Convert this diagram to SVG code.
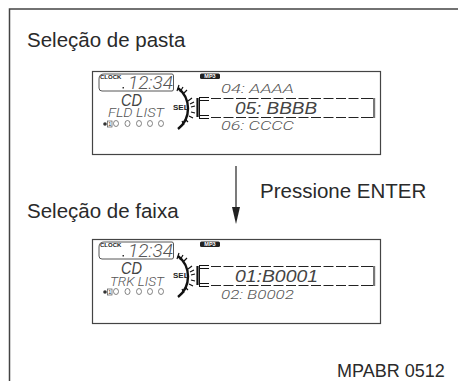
<svg xmlns="http://www.w3.org/2000/svg" width="458" height="381" viewBox="0 0 458 381">
<style>
.lbl{font-family:"Liberation Sans",Arial,sans-serif;font-size:20.500px;fill:#2a2a2a}
.box{fill:#fff;stroke:#444;stroke-width:1.200}
.lcd{font-family:Roboto,"Liberation Sans",sans-serif;font-weight:300;font-style:italic;fill:#555}
.big{font-family:"Liberation Sans",sans-serif;font-style:italic;fill:#444}
.tiny{font-family:"Liberation Sans",Arial,sans-serif;font-weight:700;fill:#222}
.clk{fill:none;stroke:#444;stroke-width:.9}
.dash{fill:none;stroke:#222;stroke-width:1;stroke-dasharray:10 2.500}
.arc{fill:none;stroke:#111;stroke-width:2.400}
.tick{fill:none;stroke:#111;stroke-width:1.200}
.br{fill:none;stroke:#111;stroke-width:1}
</style>
<defs>
<g id="panel">
<path class="clk" d="M99 79Q99 74 104 74H172Q173.500 74 173.500 76V89Q173.500 91 172 91H102Q99 91 99 88Z"/>
<text class="tiny" x="100" y="78.500" font-size="6">CLOCK</text>
<text class="lcd" x="128" y="89" font-size="18.500" textLength="45" lengthAdjust="spacingAndGlyphs">12:34</text>
<rect x="122.500" y="87" width="1.500" height="1.500" fill="#333"/>
<rect x="200" y="73.500" width="20" height="5.500" rx="1.500" fill="#222"/>
<text x="210" y="78.300" text-anchor="middle" font-family="Liberation Sans, Arial, sans-serif" font-weight="700" font-size="5.500" fill="#fff">MP3</text>
<text class="tiny" x="173" y="109.500" font-size="8">SEL</text>
<path class="arc" d="M178 88A26 26 0 0 1 178 129"/>
<path class="tick" d="M179 85L177 91M183 87L180 92M187 90L183 94M192 98L188 101M194 102L190 104M195 106L191 107M195 113L191 112M193 118L189 116M188 122L185 119M184 125L182 121"/>
<path d="M197.500 98V117" fill="none" stroke="#111" stroke-width="2.200"/>
<path class="br" d="M199 97.500H209M199 100.500H209M199 115.500H209M199 118.500H209M199.500 97.500V118.500"/>
<path class="dash" d="M211 98.500H369M211 117.500H369"/>
<path d="M369 98.500H373.500M369 117.500H373.500" fill="none" stroke="#222" stroke-width="1"/>
<rect x="373" y="98" width="2.200" height="20" fill="#777"/>
<g fill="none" stroke="#666" stroke-width=".8">
<ellipse cx="116" cy="123.500" rx="2.500" ry="3"/><ellipse cx="127.500" cy="123.500" rx="2.500" ry="3"/><ellipse cx="139" cy="123.500" rx="2.500" ry="3"/><ellipse cx="150" cy="123.500" rx="2.500" ry="3"/><ellipse cx="161" cy="123.500" rx="2.500" ry="3"/>
</g>
<circle cx="105" cy="124" r="1.800" fill="#333"/>
<rect x="107.500" y="121" width="4.500" height="6" fill="none" stroke="#555" stroke-width=".7"/>
<text x="109.700" y="126" text-anchor="middle" font-family="Liberation Sans, sans-serif" font-size="5.500" fill="#333">1</text>
<text class="big" x="121" y="106" font-size="17" textLength="21" lengthAdjust="spacingAndGlyphs">CD</text>
</g>
</defs>
<g id="frame"><path d="M458 9H9.500V381" fill="none" stroke="#444" stroke-width="1.500"/></g>
<text class="lbl" x="27" y="47">Seleção de pasta</text>
<g id="display-folder">
<rect class="box" x="92.500" y="71.500" width="288" height="83"/>
<use href="#panel"/>
<text class="lcd" x="108" y="117" font-size="13" textLength="56" lengthAdjust="spacingAndGlyphs">FLD LIST</text>
<text class="lcd" x="221" y="93" font-size="12.500" textLength="73" lengthAdjust="spacingAndGlyphs">04: AAAA</text>
<text class="big" x="235" y="114" font-size="17" textLength="82" lengthAdjust="spacingAndGlyphs">05: BBBB</text>
<text class="lcd" x="221" y="129.500" font-size="12.500" textLength="73" lengthAdjust="spacingAndGlyphs">06: CCCC</text>
</g>
<g id="connectors">
<path d="M236 166V210" stroke="#222" stroke-width="1.200" fill="none"/>
<path d="M232 207H240L236 224Z" fill="#222"/>
</g>
<text class="lbl" x="260" y="198">Pressione ENTER</text>
<text class="lbl" x="27" y="218">Seleção de faixa</text>
<g id="display-track">
<rect class="box" x="92.500" y="239.500" width="288" height="84"/>
<use href="#panel" y="168"/>
<text class="lcd" x="110" y="286" font-size="13" textLength="54" lengthAdjust="spacingAndGlyphs">TRK LIST</text>
<text class="big" x="235" y="282" font-size="17" textLength="83" lengthAdjust="spacingAndGlyphs">01:B0001</text>
<text class="lcd" x="221" y="299" font-size="12.500" textLength="73" lengthAdjust="spacingAndGlyphs">02: B0002</text>
</g>
<text x="337" y="377" font-family="Liberation Sans, Arial, sans-serif" font-size="18" fill="#2a2a2a">MPABR 0512</text>
</svg>
